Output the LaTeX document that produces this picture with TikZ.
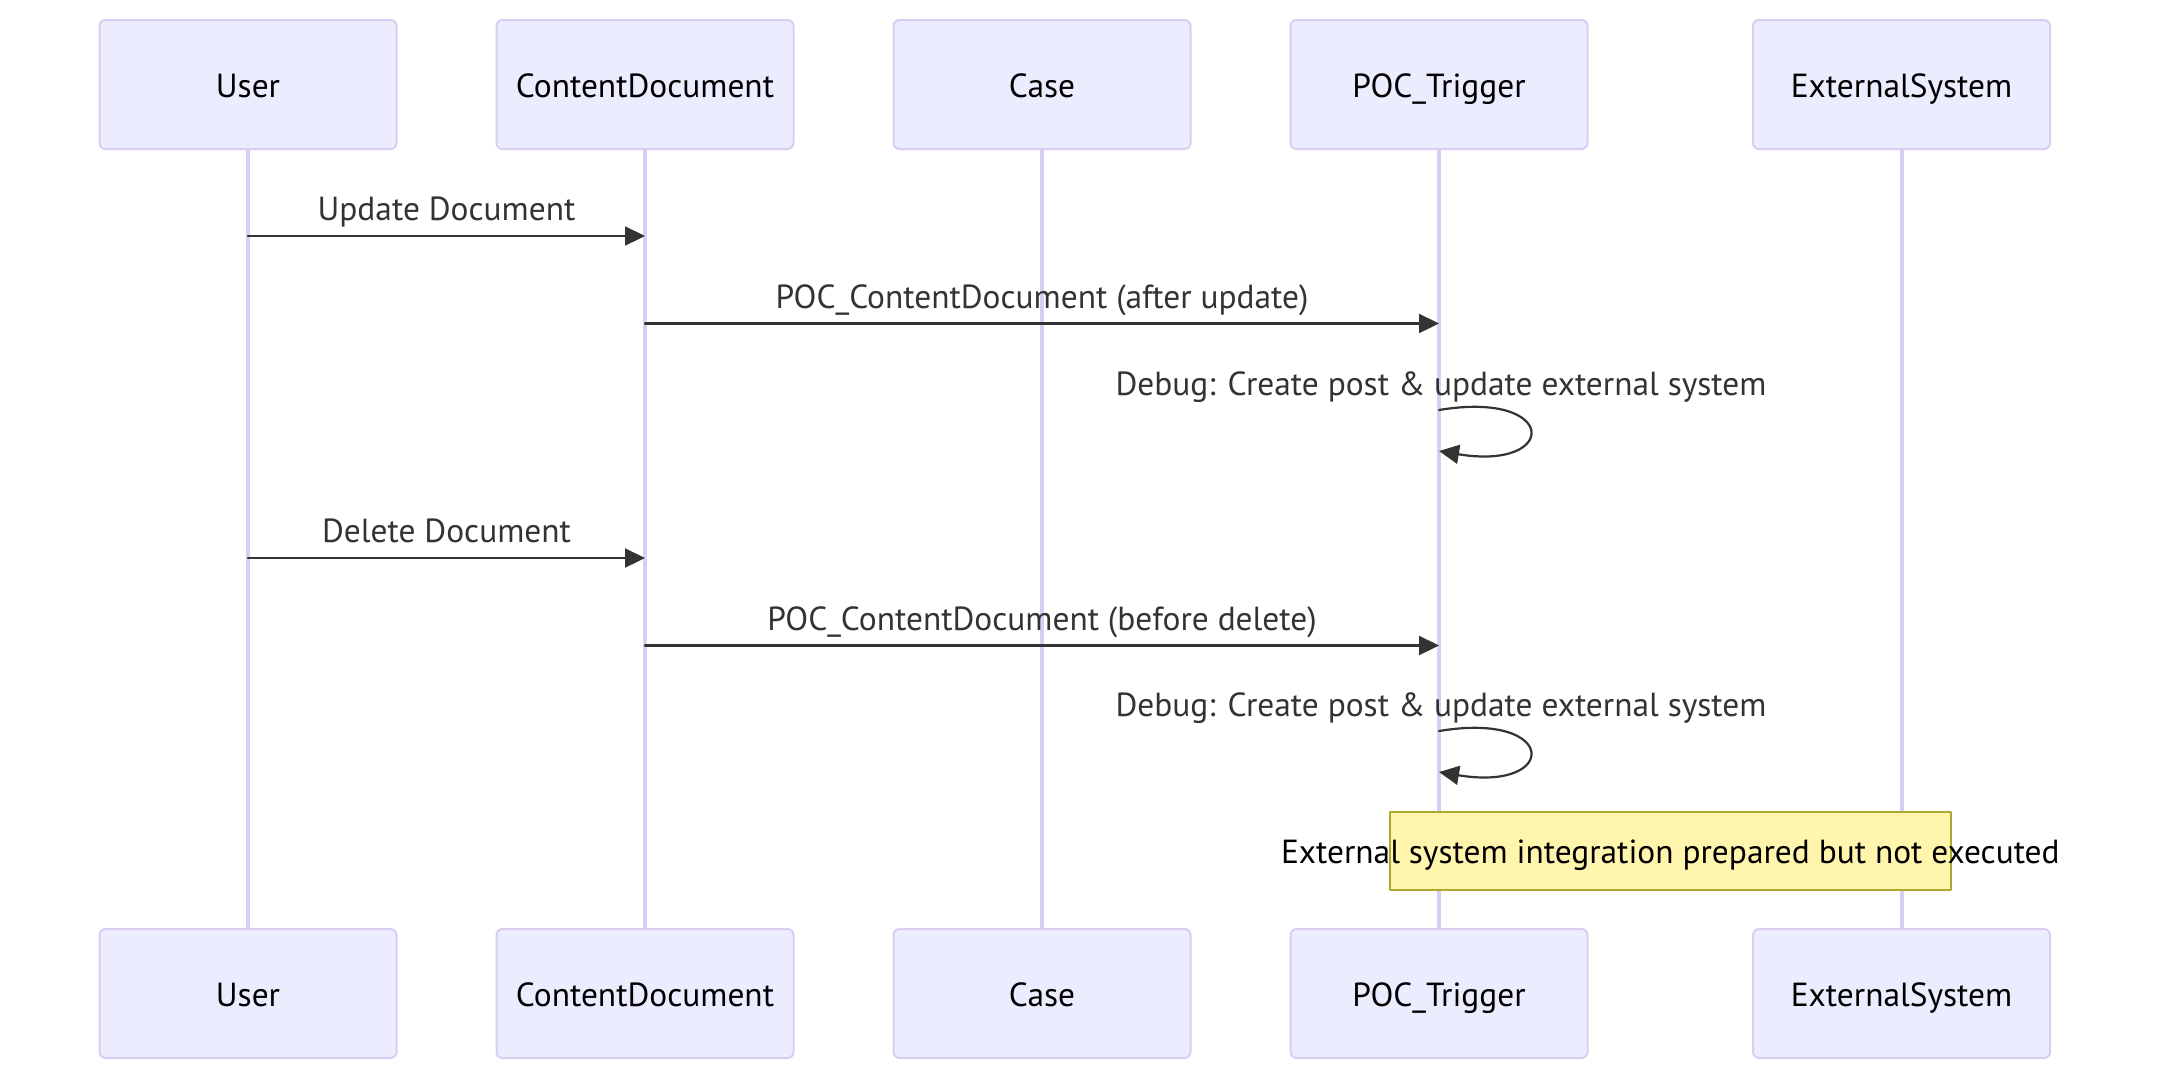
\documentclass[tikz,border=0pt]{standalone}
\usepackage{fontspec}
\setmainfont{PT Sans}
\usetikzlibrary{arrows.meta}
\definecolor{actorfill}{HTML}{ECECFF}
\definecolor{actorline}{HTML}{D9CDF3}
\definecolor{notefill}{HTML}{FFF5AD}
\definecolor{noteline}{HTML}{AAAA33}
\definecolor{msgcol}{HTML}{333333}

\begin{document}
\begin{tikzpicture}[line cap=round,line join=round,x=0.5pt,y=-0.5pt,
		>={Triangle[length=10pt,width=9.5pt]},
		actor/.style={draw=actorline,line width=1pt,fill=actorfill,rounded corners=3pt,minimum width=148.5pt,minimum height=64.5pt,inner sep=0pt,text height=15pt,text depth=2pt,font=\fontsize{16.7}{20}\selectfont},
		lifeline/.style={draw=actorline,line width=2pt},
		msg/.style={draw=msgcol,line width=1.1pt,->},
		msglabel/.style={text=msgcol,inner sep=0pt,anchor=base,font=\fontsize{16.7}{20}\selectfont},
		notebox/.style={draw=noteline,line width=1pt,fill=notefill,minimum width=280.7pt,minimum height=38.8pt,inner sep=0pt,text height=14pt,text depth=1.5pt,font=\fontsize{16.7}{20}\selectfont}]
	\path[fill=white,use as bounding box] (0,0) rectangle (2166,1088);
	% participants
	\node[actor] (uTop) at (248,84.5) {User};
	\node[actor] (cdTop) at (645,84.5) {ContentDocument};
	\node[actor] (caseTop) at (1042,84.5) {Case};
	\node[actor] (pocTop) at (1439,84.5) {POC\_Trigger};
	\node[actor] (extTop) at (1901.5,84.5) {ExternalSystem};
	\node[actor] (uBot) at (248,993.5) {User};
	\node[actor] (cdBot) at (645,993.5) {ContentDocument};
	\node[actor] (caseBot) at (1042,993.5) {Case};
	\node[actor] (pocBot) at (1439,993.5) {POC\_Trigger};
	\node[actor] (extBot) at (1901.5,993.5) {ExternalSystem};
	\draw[lifeline] (uTop) -- (uBot);
	\draw[lifeline] (cdTop) -- (cdBot);
	\draw[lifeline] (caseTop) -- (caseBot);
	\draw[lifeline] (pocTop) -- (pocBot);
	\draw[lifeline] (extTop) -- (extBot);
	% message rows
	\coordinate (upd) at (0,236);
	\coordinate (trigA) at (0,323.5);
	\coordinate (dbgA) at (0,410);
	\coordinate (dbgAe) at (0,451);
	\coordinate (del) at (0,558);
	\coordinate (trigB) at (0,645.5);
	\coordinate (dbgB) at (0,731);
	\coordinate (dbgBe) at (0,772);
	\draw[msg] (uTop |- upd) -- (cdTop |- upd) node[msglabel,midway,yshift=7.7pt] {Update Document};
	\draw[msg] (cdTop |- trigA) -- (pocTop |- trigA) node[msglabel,midway,yshift=7.7pt] {POC\_ContentDocument (after update)};
	\draw[msg] (pocTop |- dbgA) .. controls +(120,-20) and +(120,20) .. (pocTop |- dbgAe);
	\node[msglabel] (dbgAl) at (1441,395) {Debug: Create post \& update external system};
	\draw[msg] (uTop |- del) -- (cdTop |- del) node[msglabel,midway,yshift=7.7pt] {Delete Document};
	\draw[msg] (cdTop |- trigB) -- (pocTop |- trigB) node[msglabel,midway,yshift=7.7pt] {POC\_ContentDocument (before delete)};
	\draw[msg] (pocTop |- dbgB) .. controls +(120,-20) and +(120,20) .. (pocTop |- dbgBe);
	\node[msglabel] (dbgBl) at (1441,716) {Debug: Create post \& update external system};
	% note
	\node[notebox] (note) at (1670.3,851) {\makebox[0pt][c]{External system integration prepared but not executed}};
\end{tikzpicture}
\end{document}
